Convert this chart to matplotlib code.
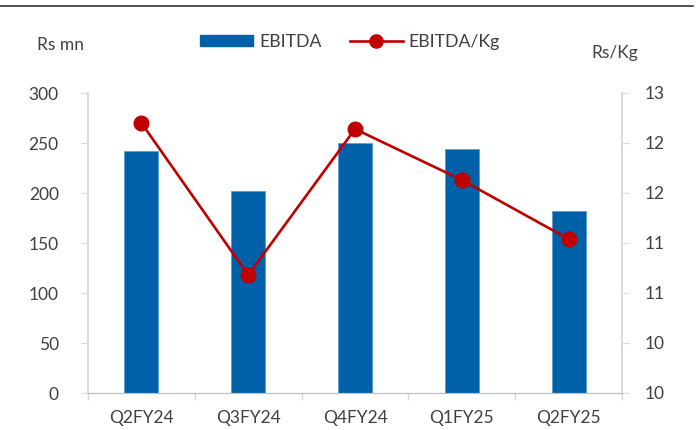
import matplotlib

matplotlib.use("Agg")

import matplotlib.pyplot as plt
from matplotlib.lines import Line2D
from matplotlib.patches import Patch
from matplotlib.ticker import FixedLocator, FuncFormatter, MultipleLocator

plt.rcParams["font.family"] = ["Lato", "DejaVu Sans"]

quarters = ["Q2FY24", "Q3FY24", "Q4FY24", "Q1FY25", "Q2FY25"]
ebitda = [242, 202, 250, 244, 182]  # Rs mn
ebitda_per_kg = [12.70, 11.18, 12.64, 12.13, 11.54]  # Rs/Kg

bar_color = "#0060A8"
line_color = "#C00000"
text_color = "#404040"
axis_color = "#D9D9D9"

fig = plt.figure(figsize=(7, 4.3), dpi=100)
ax = fig.add_axes([88 / 700, 1 - 393 / 430, (622 - 88) / 700, 300 / 430])
ax2 = ax.twinx()

x = list(range(len(quarters)))
ax.bar(x, ebitda, width=0.32, color=bar_color, edgecolor="#5B9BD5", linewidth=0.6, zorder=2)
ax2.plot(x, ebitda_per_kg, color=line_color, linewidth=1.9, marker="o",
         markersize=10.5, zorder=3)

ax.set_xlim(-0.5, len(quarters) - 0.5)
ax.set_ylim(0, 300)
ax.yaxis.set_major_locator(MultipleLocator(50))
ax2.set_ylim(10, 13)
ax2.yaxis.set_major_locator(MultipleLocator(0.5))
ax2.yaxis.set_major_formatter(FuncFormatter(lambda v, _: f"{int(v)}"))

ax.set_xticks(x)
ax.set_xticklabels(quarters)
ax.xaxis.set_minor_locator(FixedLocator([i - 0.5 for i in range(len(quarters) + 1)]))
ax.tick_params(axis="x", which="major", length=0, pad=12, labelsize=12.5, labelcolor=text_color)
ax.tick_params(axis="x", which="minor", length=5, color=axis_color, width=1)
ax.tick_params(axis="y", length=5, color=axis_color, pad=16, labelsize=12.5, labelcolor=text_color)
ax2.tick_params(axis="y", length=5, color=axis_color, pad=11, labelsize=12.5, labelcolor=text_color)

for a in (ax, ax2):
    a.spines["top"].set_visible(False)
    a.spines["left"].set_color(axis_color)
    a.spines["right"].set_color(axis_color)
    a.spines["bottom"].set_color("#BFBFBF")
    a.spines["left"].set_linewidth(1.2)
    a.spines["right"].set_linewidth(1.2)

fig.text(37 / 700, 1 - 45 / 430, "Rs mn", fontsize=12.5, color=text_color, va="center")
fig.text(591 / 700, 1 - 53 / 430, "Rs/Kg", fontsize=12.5, color=text_color, va="center")

handles = [
    Patch(facecolor=bar_color, edgecolor=bar_color),
    Line2D([], [], color=line_color, linewidth=1.9, marker="o", markersize=9.5),
]
fig.legend(handles, ["EBITDA", "EBITDA/Kg"], loc="center", bbox_to_anchor=(0.5, 1 - 42 / 430),
           ncol=2, frameon=False, fontsize=12.7, handlelength=3.0, handleheight=0.6,
           handletextpad=0.35, columnspacing=1.6, labelcolor=text_color)

# dark rule across the top of the figure
fig.add_artist(Line2D([0, 693 / 700], [1 - 6 / 430, 1 - 6 / 430], color="#333333",
                      linewidth=1.2, transform=fig.transFigure))

fig.savefig("out.png", dpi=100)
